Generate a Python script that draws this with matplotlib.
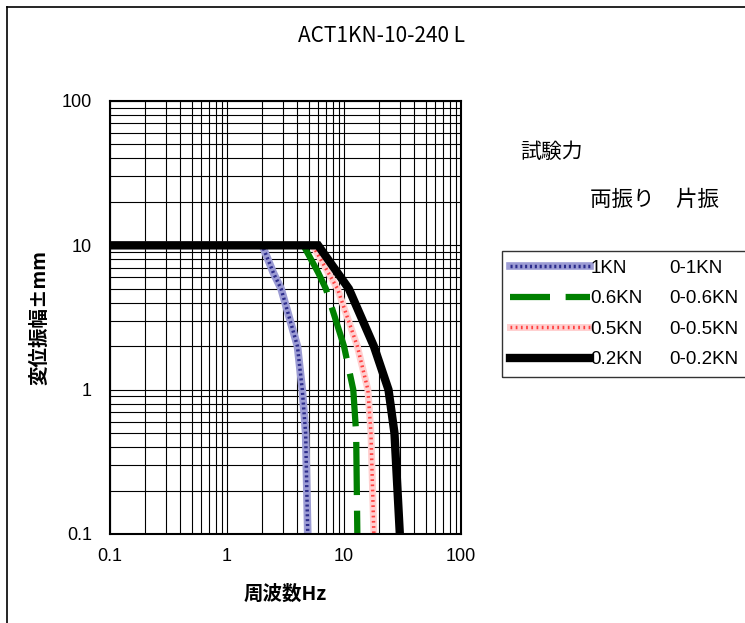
#!/usr/bin/env python3

import matplotlib
matplotlib.use("Agg")
import matplotlib.pyplot as plt
from matplotlib.lines import Line2D
from matplotlib.patches import Rectangle
from matplotlib.legend_handler import HandlerTuple

plt.rcParams["font.family"] = ["Noto Sans CJK JP", "DejaVu Sans"]

# curves: frequency (Hz) vs displacement amplitude (mm)
freq_1kn = [0.1, 2.0, 2.5, 2.9, 4.0, 4.4, 4.7, 4.9]
amp_1kn = [10, 10, 6.4, 5, 2, 1, 0.5, 0.1]

freq_06kn = [0.1, 4.5, 6.0, 7.0, 10.0, 12.0, 12.7, 13.0]
amp_06kn = [10, 10, 6.5, 5, 2, 1, 0.5, 0.1]

freq_05kn = [0.1, 5.4, 8.8, 13.0, 16.0, 17.0, 18.0]
amp_05kn = [10, 10, 5, 2, 1, 0.5, 0.1]

freq_02kn = [0.1, 6.0, 11.0, 18.0, 24.0, 27.0, 30.0]
amp_02kn = [10, 10, 5, 2, 1, 0.5, 0.1]

labels_both = ["1KN", "0.6KN", "0.5KN", "0.2KN"]
labels_one = ["0-1KN", "0-0.6KN", "0-0.5KN", "0-0.2KN"]
tick_vals = [0.1, 1, 10, 100]
tick_text = ["0.1", "1", "10", "100"]

num_font = "Liberation Sans"


def main():
    fig = plt.figure(figsize=(7.45, 6.23), dpi=100)
    ax = fig.add_axes([110 / 745, 1 - 534 / 623, 351 / 745, 433 / 623])

    ax.set_xscale("log")
    ax.set_yscale("log")
    ax.set_xlim(0.1, 100)
    ax.set_ylim(0.1, 100)

    ax.grid(True, which="both", color="black", linewidth=0.8)
    ax.set_axisbelow(True)

    # 1KN: hatched blue band
    b1, = ax.plot(freq_1kn, amp_1kn, color="#9c9cd4", lw=5.5, solid_joinstyle="miter")
    b2, = ax.plot(freq_1kn, amp_1kn, color="#2c2c8c", lw=2.5, linestyle=(0, (0.6, 0.8)))
    # 0.6KN: green long dash
    g, = ax.plot(freq_06kn, amp_06kn, color="#008000", lw=4.5, linestyle=(2.1, (8.5, 2.5)),
                 dash_capstyle="butt")
    # 0.5KN: pink dotted band
    r1, = ax.plot(freq_05kn, amp_05kn, color="#ffd0d0", lw=5, solid_joinstyle="miter")
    r2, = ax.plot(freq_05kn, amp_05kn, color="#ff4040", lw=2.5, linestyle=(0, (0.5, 1.0)))
    # 0.2KN: black
    k, = ax.plot(freq_02kn, amp_02kn, color="black", lw=6, solid_joinstyle="miter")

    ax.set_xticks(tick_vals)
    ax.set_xticklabels(tick_text, fontfamily=num_font, fontsize=13)
    ax.set_yticks(tick_vals)
    ax.set_yticklabels(tick_text, fontfamily=num_font, fontsize=13)
    ax.tick_params(which="both", length=0)
    ax.tick_params(axis="x", pad=10)
    ax.tick_params(axis="y", pad=13)
    for s in ax.spines.values():
        s.set_linewidth(1.5)

    ax.set_xlabel("周波数Hz", fontsize=14, fontweight="bold", labelpad=14)
    ax.set_ylabel("変位振幅±mm", fontsize=14, fontweight="bold", labelpad=9)

    fig.text(381 / 745, 1 - 36 / 623, "ACT1KN-10-240 L", fontsize=15,
             ha="center", va="center")
    fig.text(520 / 745, 1 - 152 / 623, "試験力", fontsize=15, va="center")
    fig.text(590 / 745, 1 - 200 / 623, "両振り　片振", fontsize=15.5, va="center")

    leg = fig.legend([(b1, b2), g, (r1, r2), k], labels_both,
                     handler_map={tuple: HandlerTuple(ndivide=1, pad=0)},
                     loc="upper left", bbox_to_anchor=(502 / 745, 1 - 251 / 623),
                     frameon=False, handlelength=4.25, handletextpad=0.0,
                     borderpad=0.45, labelspacing=0.72, borderaxespad=0,
                     prop={"family": num_font, "size": 13.5})

    # second label column placed beside the legend rows, box runs off the right edge
    fig.canvas.draw()
    inv = fig.transFigure.inverted()
    for t, txt in zip(leg.get_texts(), labels_one):
        bb = t.get_window_extent()
        y = inv.transform(((bb.x0 + bb.x1) / 2, (bb.y0 + bb.y1) / 2))[1]
        fig.text(669 / 745, y, txt, fontfamily=num_font, fontsize=13.5, va="center",
                 zorder=10)
    lb = leg.get_window_extent().transformed(inv)
    fig.add_artist(Rectangle((lb.x0, lb.y0), 1.2 - lb.x0, lb.height,
                             transform=fig.transFigure, fill=False,
                             edgecolor="#333333", lw=1.0))

    # outer frame (left and top edges)
    fig.add_artist(Line2D([7 / 745, 7 / 745], [0, 1 - 7 / 623], color="black", lw=1.2))
    fig.add_artist(Line2D([7 / 745, 1], [1 - 7 / 623, 1 - 7 / 623], color="black", lw=1.2))

    fig.savefig("out.png", dpi=100)


if __name__ == "__main__":
    main()
